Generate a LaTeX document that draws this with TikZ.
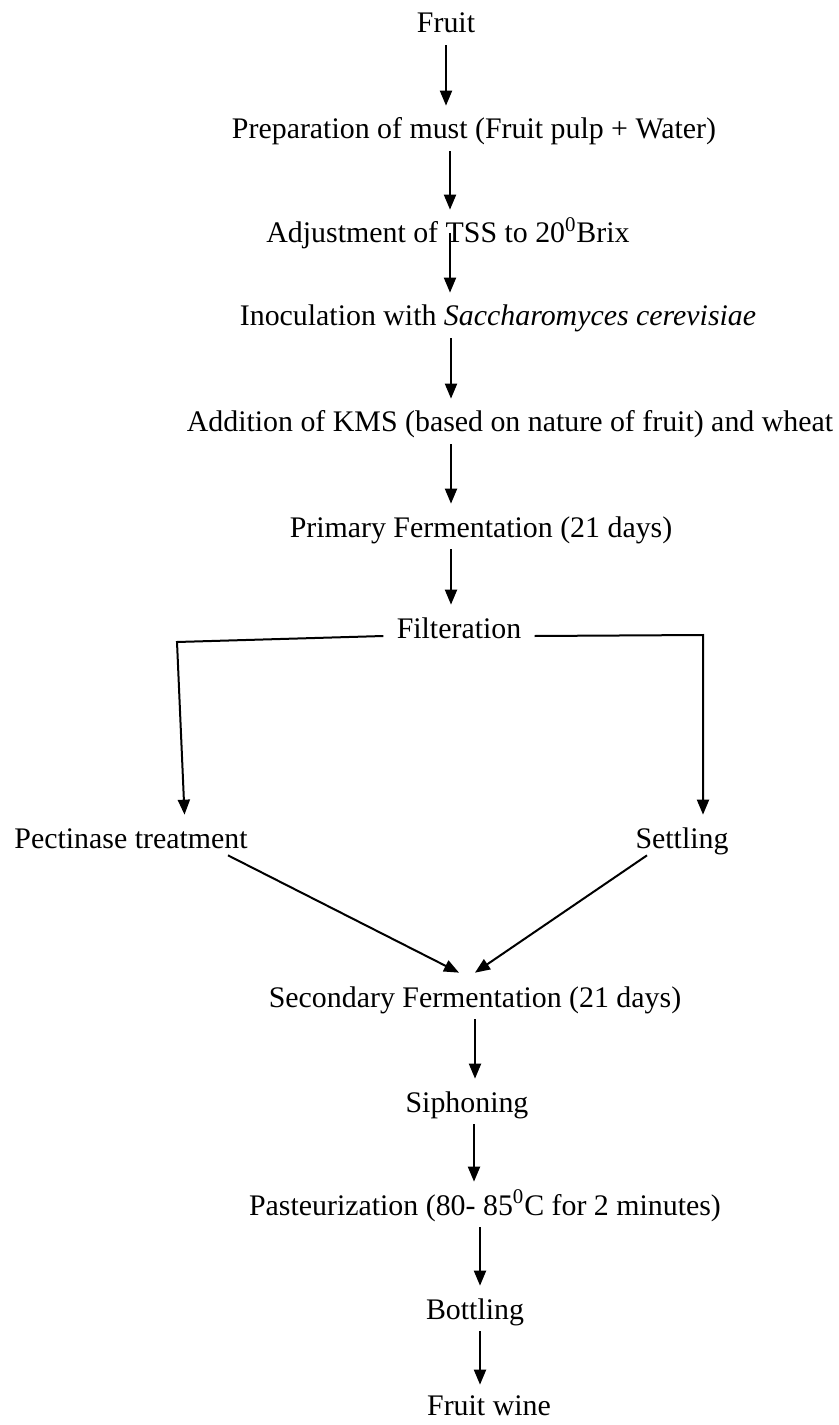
\documentclass[tikz,border=0pt]{standalone}
\usepackage{fontspec}
\setmainfont{Liberation Serif}
\usetikzlibrary{arrows.meta}

\begin{document}
\begin{tikzpicture}[>={Triangle[length=0.3cm,width=0.24cm]},
    every node/.style={font=\fontsize{17}{20}\selectfont,anchor=base,inner xsep=0pt,inner ysep=0pt,text height=0.44cm,text depth=0.14cm},
    link/.style={line width=0.04cm},
    flow/.style={link,->,shorten <=0.1cm,shorten >=0.22cm},
    diag/.style={link,->}]
            \useasboundingbox (0,0) rectangle (16.76,-28.5);
            % main line, top part
            \node (fruit) at (8.92,-0.66) {Fruit};
            \node (must) at (9.48,-2.78) {Preparation of must (Fruit pulp + Water)};
            \node (tss) at (8.96,-4.86) {Adjustment of TSS to 20\textsuperscript{0}Brix};
            \node (inoc) at (9.96,-6.52) {Inoculation with \textit{Saccharomyces cerevisiae}};
            \node (kms) at (10.2,-8.64) {Addition of KMS (based on nature of fruit) and wheat};
            \node (primary) at (9.62,-10.74) {Primary Fermentation (21 days)};
            \node (filt) at (9.18,-12.76) {Filteration};
            % the two branches
            \node (pect) at (2.62,-16.96) {Pectinase treatment};
            \node (settl) at (13.64,-16.96) {Settling};
            % main line, bottom part
            \node (second) at (9.5,-20.14) {Secondary Fermentation (21 days)};
            \node (siph) at (9.34,-22.24) {Siphoning};
            \node (past) at (9.7,-24.3) {Pasteurization (80- 85\textsuperscript{0}C for 2 minutes)};
            \node (bottl) at (9.5,-26.38) {Bottling};
            \node (wine) at (9.78,-28.3) {Fruit wine};
            \coordinate (lcorner) at (3.54,-12.84);
            \coordinate (rcorner) at (14.06,-12.70);
            \draw [flow] (fruit.south) -- (fruit.south |- must.north);
            \draw [flow] ([xshift=-0.48cm]must.south) -- ([xshift=-0.48cm]must.south |- tss.north);
            \draw [flow,shorten <=0pt] ([xshift=0.04cm,yshift=0.2cm]tss.base) -- ([xshift=0.04cm]tss.base |- inoc.north);
            \draw [flow] ([xshift=-0.94cm]inoc.south) -- ([xshift=-0.94cm]inoc.south |- kms.north);
            \draw [flow] ([xshift=-1.18cm]kms.south) -- ([xshift=-1.18cm]kms.south |- primary.north);
            \draw [flow] ([xshift=-0.6cm]primary.south) -- ([xshift=-0.6cm]primary.south |- filt.north);
            \draw [flow,shorten <=0pt] ([xshift=-0.26cm,yshift=0.04cm]filt.base west) -- (lcorner) -- ([xshift=0.16cm]lcorner |- pect.north);
            \draw [flow,shorten <=0pt] ([xshift=0.26cm,yshift=0.04cm]filt.base east) -- (rcorner) -- (rcorner |- settl.north);
            \draw [diag] ([xshift=1.94cm]pect.south) -- ([xshift=-0.32cm,yshift=0.24cm]second.north);
            \draw [diag] ([xshift=-0.7cm]settl.south) -- ([yshift=0.24cm]second.north);
            \draw [flow] (second.south) -- (second.south |- siph.north);
            \draw [flow] ([xshift=0.14cm]siph.south) -- ([xshift=0.14cm]siph.south |- past.north);
            \draw [flow] ([xshift=-0.1cm]past.south) -- ([xshift=-0.1cm]past.south |- bottl.north);
            \draw [flow,shorten >=0.16cm] ([xshift=0.1cm]bottl.south) -- ([xshift=0.1cm]bottl.south |- wine.north);
\end{tikzpicture}
\end{document}
